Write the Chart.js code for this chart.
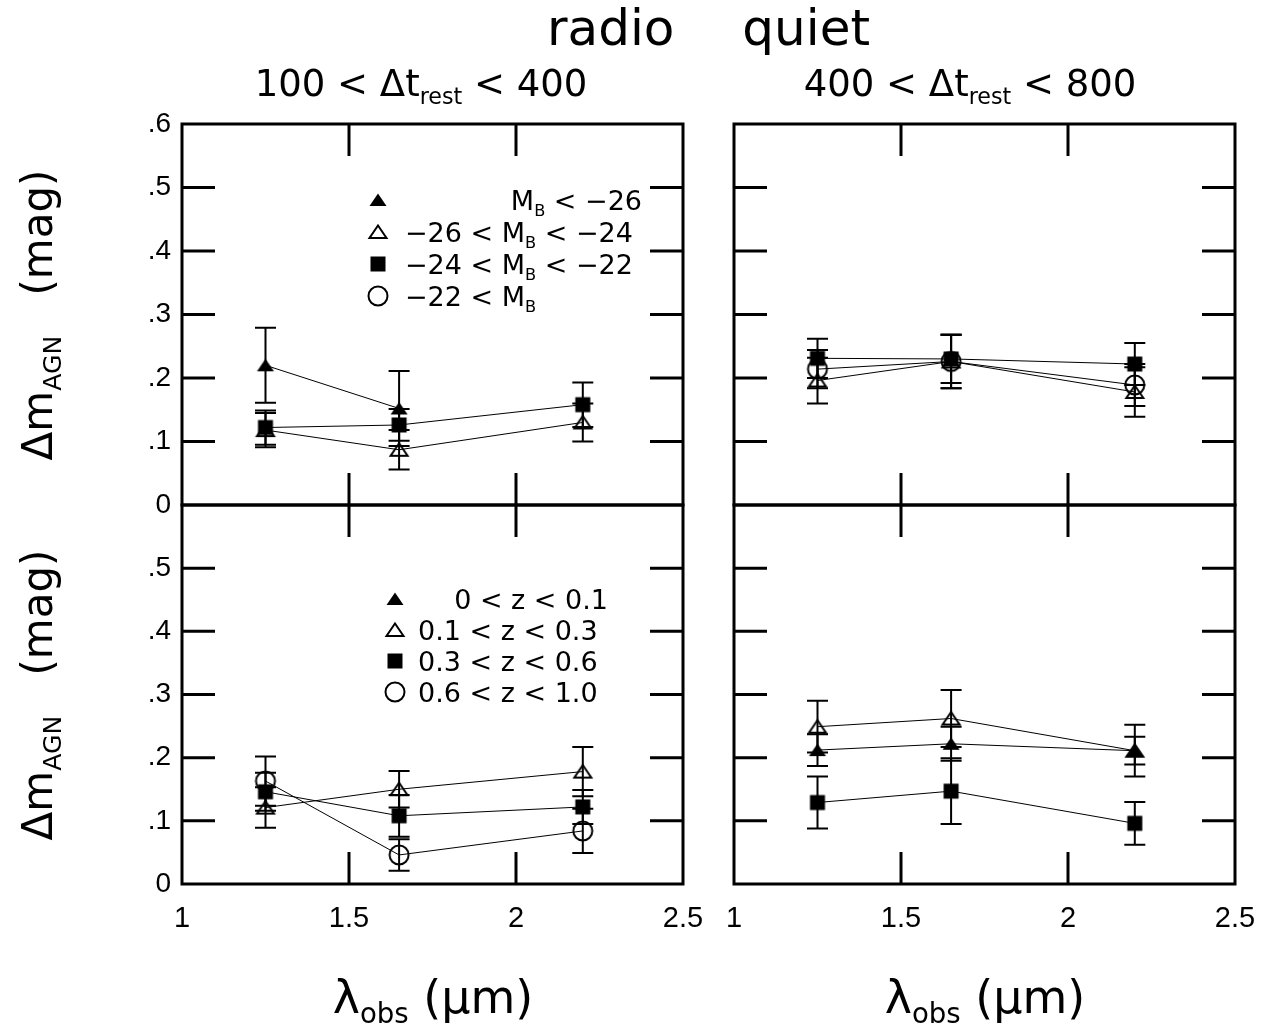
<!DOCTYPE html>
<html>
<head>
<meta charset="utf-8">
<script src="https://cdn.jsdelivr.net/npm/chart.js@4.4.1/dist/chart.umd.min.js"></script>
<style>
  html, body { margin: 0; padding: 0; background: #fff; }
  #wrap { position: relative; width: 1267px; height: 1031px; }
  #wrap canvas { position: absolute; left: 0; top: 0; }
</style>
</head>
<body>
<div id="wrap">
  <canvas id="tl" width="1267" height="1031"></canvas>
  <canvas id="tr" width="1267" height="1031"></canvas>
  <canvas id="bl" width="1267" height="1031"></canvas>
  <canvas id="br" width="1267" height="1031"></canvas>
</div>
<script>
// observed wavelengths (J, H, K) in micron
const lambdaObs = [1.25, 1.65, 2.2];

// tick labels
const xTickLabels = ['1', '1.5', '2', '2.5'];
const yTickLabels = ['0', '.1', '.2', '.3', '.4', '.5', '.6'];

// top left: 100 < dt < 400, split by luminosity
const tlBright = [0.220, 0.152, null];
const tlBrightErr = [0.059, 0.059, null];
const tlMid = [0.118, 0.087, 0.130];
const tlMidErr = [0.027, 0.031, 0.030];
const tlFaint = [0.122, 0.126, 0.158];
const tlFaintErr = [0.027, 0.025, 0.035];

// top right: 400 < dt < 800, split by luminosity
const trMid = [0.196, 0.226, 0.178];
const trMidErr = [0.036, 0.042, 0.039];
const trFaint = [0.231, 0.230, 0.222];
const trFaintErr = [0.031, 0.038, 0.033];
const trFaintest = [0.214, 0.226, 0.189];
const trFaintestErr = [0.030, 0.042, 0.033];

// bottom left: 100 < dt < 400, split by redshift
const blZ2 = [0.121, 0.150, 0.178];
const blZ2Err = [0.032, 0.029, 0.039];
const blZ3 = [0.146, 0.108, 0.122];
const blZ3Err = [0.030, 0.033, 0.027];
const blZ4 = [0.163, 0.046, 0.084];
const blZ4Err = [0.039, 0.025, 0.035];

// bottom right: 400 < dt < 800, split by redshift
const brZ1 = [0.212, 0.222, 0.211];
const brZ1Err = [0.025, 0.027, 0.022];
const brZ2 = [0.249, 0.262, 0.211];
const brZ2Err = [0.041, 0.045, 0.041];
const brZ3 = [0.129, 0.147, 0.096];
const brZ3Err = [0.041, 0.052, 0.034];

// legend texts ([text, subscript?])
const lumLabels = [
  [['M'], ['B', 1], [' < \u221226']],
  [['\u221226 < M'], ['B', 1], [' < \u221224']],
  [['\u221224 < M'], ['B', 1], [' < \u221222']],
  [['\u221222 < M'], ['B', 1]]
];
const zLabels = [
  [['0 < z < 0.1']],
  [['0.1 < z < 0.3']],
  [['0.3 < z < 0.6']],
  [['0.6 < z < 1.0']]
];

const TICKFONT = '"Liberation Sans", Arial, sans-serif';
const TEXTFONT = '"DejaVu Sans", Verdana, sans-serif';

// marker images
function makeMarker(kind, filled) {
  const c = document.createElement('canvas');
  c.width = 26; c.height = 26;
  const g = c.getContext('2d');
  g.lineWidth = 2;
  g.strokeStyle = '#000';
  g.fillStyle = '#000';
  g.beginPath();
  if (kind === 'triangle') {
    g.moveTo(13, 6.5);
    g.lineTo(21.5, 19);
    g.lineTo(4.5, 19);
    g.closePath();
  } else if (kind === 'rect') {
    g.rect(5.5, 5.5, 15, 15);
  } else {
    g.arc(13, 13, 9.5, 0, Math.PI * 2);
  }
  if (filled) g.fill(); else g.stroke();
  return c;
}
const M = {
  triFill: makeMarker('triangle', true),
  triOpen: makeMarker('triangle', false),
  sqFill: makeMarker('rect', true),
  circOpen: makeMarker('circle', false)
};

function drawRich(ctx, parts, x, y, size, align) {
  let w = 0;
  parts.forEach(p => {
    ctx.font = (p[1] ? size * 0.6 : size) + 'px ' + TEXTFONT;
    w += ctx.measureText(p[0]).width;
  });
  let cx = align === 'center' ? x - w / 2 : align === 'right' ? x - w : x;
  ctx.textAlign = 'left';
  ctx.textBaseline = 'alphabetic';
  parts.forEach(p => {
    ctx.font = (p[1] ? size * 0.6 : size) + 'px ' + TEXTFONT;
    ctx.fillText(p[0], cx, p[1] ? y + size * 0.22 : y);
    cx += ctx.measureText(p[0]).width;
  });
}

// frame and inward ticks on all four sides
const frameTicks = {
  id: 'frameTicks',
  beforeDatasetsDraw(chart) {
    const { ctx, chartArea: a, scales: { x, y } } = chart;
    ctx.save();
    ctx.strokeStyle = '#000';
    ctx.lineWidth = 3;
    ctx.lineCap = 'butt';
    ctx.beginPath();
    x.ticks.forEach(t => {
      if (t.value <= x.min || t.value >= x.max) return;
      const px = x.getPixelForValue(t.value);
      ctx.moveTo(px, a.bottom); ctx.lineTo(px, a.bottom - 32);
      ctx.moveTo(px, a.top); ctx.lineTo(px, a.top + 32);
    });
    y.ticks.forEach(t => {
      if (t.value <= y.min + 1e-9 || t.value >= y.max - 1e-9) return;
      const py = y.getPixelForValue(t.value);
      ctx.moveTo(a.left, py); ctx.lineTo(a.left + 33, py);
      ctx.moveTo(a.right, py); ctx.lineTo(a.right - 33, py);
    });
    ctx.stroke();
    ctx.strokeRect(a.left, a.top, a.right - a.left, a.bottom - a.top);
    ctx.restore();
  }
};

// vertical error bars with caps
const errorBars = {
  id: 'errorBars',
  afterDatasetsDraw(chart) {
    const { ctx, scales: { y } } = chart;
    ctx.save();
    ctx.strokeStyle = '#000';
    ctx.lineWidth = 2;
    chart.data.datasets.forEach((ds, i) => {
      const meta = chart.getDatasetMeta(i);
      meta.data.forEach((pt, j) => {
        const v = ds.data[j].y, e = ds.errors[j];
        if (v == null || e == null) return;
        const top = y.getPixelForValue(v + e), bot = y.getPixelForValue(v - e);
        ctx.beginPath();
        ctx.moveTo(pt.x, top); ctx.lineTo(pt.x, bot);
        ctx.moveTo(pt.x - 10.5, top); ctx.lineTo(pt.x + 10.5, top);
        ctx.moveTo(pt.x - 10.5, bot); ctx.lineTo(pt.x + 10.5, bot);
        ctx.stroke();
      });
    });
    ctx.restore();
  }
};

// legend inside the panel
const innerLegend = {
  id: 'innerLegend',
  afterDraw(chart, args, opts) {
    if (!opts.rows) return;
    const ctx = chart.ctx;
    ctx.save();
    ctx.fillStyle = '#000';
    opts.rows.forEach((r, i) => {
      const yc = opts.ys[i];
      ctx.drawImage(r.marker, opts.markerX - 13, yc - 13);
      if (r.align === 'right') drawRich(ctx, r.text, opts.rightX, yc + 10, opts.size, 'right');
      else drawRich(ctx, r.text, opts.leftX, yc + 10, opts.size, 'left');
    });
    ctx.restore();
  }
};

// page titles and axis titles
const pageText = {
  id: 'pageText',
  afterDraw(chart) {
    const ctx = chart.ctx;
    ctx.save();
    ctx.fillStyle = '#000';
    drawRich(ctx, [['radio']], 547, 45, 50, 'left');
    drawRich(ctx, [['quiet']], 870, 45, 50, 'right');
    drawRich(ctx, [['100 < \u0394t'], ['rest', 1], [' < 400']], 421, 96, 37, 'center');
    drawRich(ctx, [['400 < \u0394t'], ['rest', 1], [' < 800']], 970, 96, 37, 'center');
    const yTitle = [['\u0394m'], ['AGN', 1], ['   (mag)']];
    [315, 695].forEach(cy => {
      ctx.save();
      ctx.translate(52, cy);
      ctx.rotate(-Math.PI / 2);
      drawRich(ctx, yTitle, 0, 0, 42, 'center');
      ctx.restore();
    });
    const xTitle = [['\u03bb'], ['obs', 1], [' (\u03bcm)']];
    drawRich(ctx, xTitle, 433, 1013, 46, 'center');
    drawRich(ctx, xTitle, 985, 1013, 46, 'center');
    ctx.restore();
  }
};

function series(vals, errs, marker) {
  return {
    data: lambdaObs.map((l, i) => ({ x: l, y: vals[i] })),
    errors: errs,
    showLine: true,
    borderColor: '#000',
    borderWidth: 1,
    pointStyle: marker,
    pointRadius: 10,
    pointHoverRadius: 10,
    tension: 0,
    clip: false
  };
}

const AXIS_ROOM = 80;

function noPad(s) {
  s.paddingLeft = 0; s.paddingRight = 0; s.paddingTop = 0; s.paddingBottom = 0;
}

function makeScales(showX, showY, skipTop) {
  return {
    x: {
      type: 'linear', min: 1, max: 2.5,
      afterFit: s => { s.height = AXIS_ROOM; noPad(s); },
      grid: { display: false, drawTicks: false },
      border: { display: false },
      ticks: {
        display: showX, stepSize: 0.5, autoSkip: false, maxRotation: 0, padding: 18,
        color: '#000', font: { family: TICKFONT, size: 29 },
        callback: (v, i) => xTickLabels[i]
      }
    },
    y: {
      type: 'linear', min: 0, max: 0.6,
      afterFit: s => { s.width = AXIS_ROOM; noPad(s); },
      grid: { display: false, drawTicks: false },
      border: { display: false },
      ticks: {
        display: showY, stepSize: 0.1, autoSkip: false, padding: 11,
        color: '#000', font: { family: TICKFONT, size: 28 },
        callback: (v, i) => (skipTop && i === 6) ? '' : yTickLabels[i]
      }
    }
  };
}

function panel(id, box, datasets, axes, legend, extra) {
  return new Chart(document.getElementById(id), {
    type: 'line',
    data: { datasets: datasets },
    options: {
      responsive: false,
      animation: false,
      events: [],
      layout: { padding: {
        left: box[0] - AXIS_ROOM, top: box[1],
        right: 1267 - box[2], bottom: 1031 - box[3] - AXIS_ROOM
      } },
      scales: makeScales(axes[0], axes[1], axes[2]),
      plugins: { legend: { display: false }, tooltip: { enabled: false }, innerLegend: legend || {} }
    },
    plugins: [frameTicks, errorBars, innerLegend].concat(extra || [])
  });
}

panel('tl', [182, 124, 683, 505], [
  series(tlBright, tlBrightErr, M.triFill),
  series(tlMid, tlMidErr, M.triOpen),
  series(tlFaint, tlFaintErr, M.sqFill)
], [false, true, false], {
  markerX: 378, leftX: 405, rightX: 642, size: 27, ys: [200, 232, 264, 296],
  rows: [
    { marker: M.triFill, text: lumLabels[0], align: 'right' },
    { marker: M.triOpen, text: lumLabels[1] },
    { marker: M.sqFill, text: lumLabels[2] },
    { marker: M.circOpen, text: lumLabels[3] }
  ]
}, [pageText]);

panel('tr', [734, 124, 1235, 505], [
  series(trMid, trMidErr, M.triOpen),
  series(trFaint, trFaintErr, M.sqFill),
  series(trFaintest, trFaintestErr, M.circOpen)
], [false, false, false]);

panel('bl', [182, 505, 683, 884], [
  series(blZ2, blZ2Err, M.triOpen),
  series(blZ3, blZ3Err, M.sqFill),
  series(blZ4, blZ4Err, M.circOpen)
], [true, true, true], {
  markerX: 395, leftX: 418, rightX: 608, size: 27, ys: [599, 630, 661, 692],
  rows: [
    { marker: M.triFill, text: zLabels[0], align: 'right' },
    { marker: M.triOpen, text: zLabels[1] },
    { marker: M.sqFill, text: zLabels[2] },
    { marker: M.circOpen, text: zLabels[3] }
  ]
});

panel('br', [734, 505, 1235, 884], [
  series(brZ1, brZ1Err, M.triFill),
  series(brZ2, brZ2Err, M.triOpen),
  series(brZ3, brZ3Err, M.sqFill)
], [true, false, false]);
</script>
</body>
</html>
